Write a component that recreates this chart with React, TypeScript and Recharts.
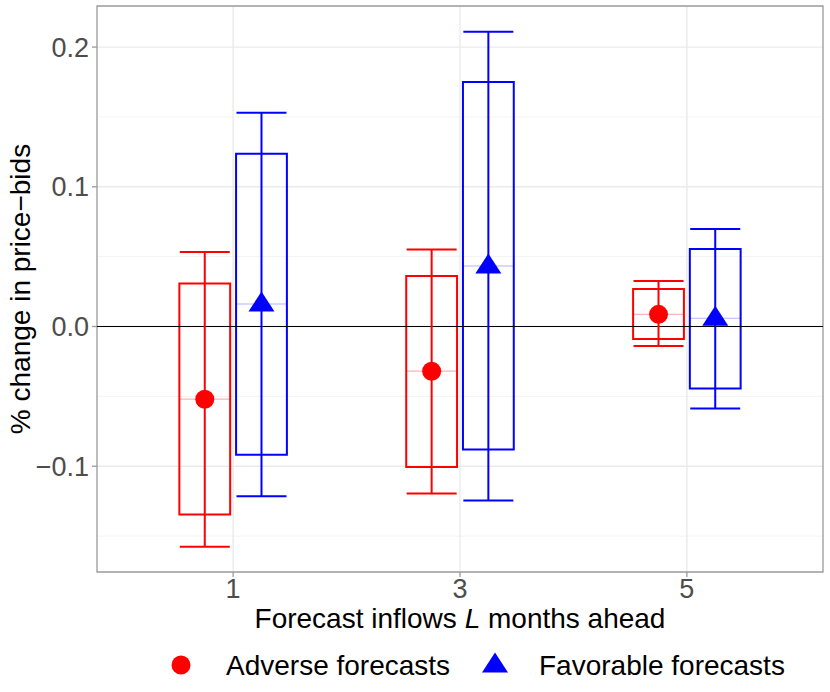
import React from 'react';
import {
  ComposedChart,
  XAxis,
  YAxis,
  CartesianGrid,
  Scatter,
  ErrorBar,
  ReferenceLine,
  ReferenceArea,
  Label,
} from 'recharts';

// forecast horizons (months ahead)
const lags = ['1', '3', '5'];

// adverse forecasts
const adverseEstimate = [-0.052, -0.032, 0.0087];
const adverseBoxLow = [-0.1346, -0.1006, -0.009];
const adverseBoxHigh = [0.0308, 0.0362, 0.0268];
const adverseLow = [-0.1577, -0.1195, -0.014];
const adverseHigh = [0.0534, 0.0552, 0.0326];

// favorable forecasts
const favorableEstimate = [0.0161, 0.0433, 0.0059];
const favorableBoxLow = [-0.0918, -0.088, -0.0443];
const favorableBoxHigh = [0.1237, 0.175, 0.0555];
const favorableLow = [-0.1215, -0.1245, -0.0587];
const favorableHigh = [0.153, 0.211, 0.0698];

const majorY = [-0.1, 0, 0.1, 0.2];
const minorY = [-0.15, -0.05, 0.05, 0.15];

const X_DOMAIN: [number, number] = [0.4, 3.6];
const Y_DOMAIN: [number, number] = [-0.1757, 0.2294];
const DODGE = 0.125;
const BOX_HALF = 0.112;

const RED = '#FF0000';
const BLUE = '#0000FF';
const FONT = '"Liberation Sans", Arial, Helvetica, sans-serif';

type Row = {
  lag: string;
  x: number;
  est: number;
  err: [number, number];
  boxLow: number;
  boxHigh: number;
};

const buildRows = (
  est: number[],
  boxLow: number[],
  boxHigh: number[],
  low: number[],
  high: number[],
  shift: number,
): Row[] =>
  lags.map((lag, i) => ({
    lag,
    x: i + 1 + shift,
    est: est[i],
    err: [est[i] - low[i], high[i] - est[i]],
    boxLow: boxLow[i],
    boxHigh: boxHigh[i],
  }));

const adverseRows = buildRows(
  adverseEstimate,
  adverseBoxLow,
  adverseBoxHigh,
  adverseLow,
  adverseHigh,
  -DODGE,
);
const favorableRows = buildRows(
  favorableEstimate,
  favorableBoxLow,
  favorableBoxHigh,
  favorableLow,
  favorableHigh,
  DODGE,
);

const fmtY = (v: number) =>
  v === 0 ? '0.0' : (v < 0 ? '\u2212' : '') + Math.abs(v).toFixed(1);

const XTick = (props: any) => {
  const { x, y, payload } = props;
  return (
    <text
      x={x}
      y={y}
      dy="0.71em"
      textAnchor="middle"
      fontSize={27}
      fontFamily={FONT}
      fill="#4D4D4D">
      {lags[payload.value - 1]}
    </text>
  );
};

const YTick = (props: any) => {
  const { x, y, payload } = props;
  return (
    <text
      x={x}
      y={y}
      dy="0.355em"
      textAnchor="end"
      fontSize={27}
      fontFamily={FONT}
      fill="#4D4D4D">
      {fmtY(payload.value)}
    </text>
  );
};

const XTitle = (props: any) => {
  const vb = props.viewBox;
  return (
    <text
      x={vb.x + vb.width / 2}
      y={vb.y + 56}
      textAnchor="middle"
      fontSize={28}
      fontFamily={FONT}
      fill="#000">
      Forecast inflows <tspan fontStyle="italic">L</tspan> months ahead
    </text>
  );
};

const YTitle = (props: any) => {
  const vb = props.viewBox;
  const cx = 20;
  const cy = vb.y + vb.height / 2;
  return (
    <text
      x={cx}
      y={cy}
      dy="0.355em"
      textAnchor="middle"
      transform={`rotate(-90 ${cx} ${cy})`}
      fontSize={28}
      fontFamily={FONT}
      fill="#000">
      % change in price{'\u2212'}bids
    </text>
  );
};

const Dot = (props: any) => (
  <circle cx={props.cx} cy={props.cy} r={9.5} fill={RED} />
);

const Tri = (props: any) => {
  const { cx, cy } = props;
  return (
    <path
      d={`M${cx},${cy - 12.5} L${cx + 13},${cy + 7.5} L${cx - 13},${cy + 7.5} Z`}
      fill={BLUE}
    />
  );
};

const Boxes = (rows: Row[], color: string, id: string) =>
  rows.map((r) => (
    <ReferenceArea
      key={`${id}-box-${r.lag}`}
      x1={r.x - BOX_HALF}
      x2={r.x + BOX_HALF}
      y1={r.boxLow}
      y2={r.boxHigh}
      fill="none"
      fillOpacity={0}
      stroke={color}
      strokeWidth={2}
      ifOverflow="visible"
    />
  ));

const Medians = (rows: Row[], color: string, id: string) =>
  rows.map((r) => (
    <ReferenceLine
      key={`${id}-mid-${r.lag}`}
      segment={[
        { x: r.x - BOX_HALF, y: r.est },
        { x: r.x + BOX_HALF, y: r.est },
      ]}
      stroke={color}
      strokeOpacity={0.3}
      strokeWidth={1.2}
      ifOverflow="visible"
    />
  ));

const ChartLegend = () => (
  <svg
    width={830}
    height={50}
    style={{ position: 'absolute', left: 0, top: 640 }}>
    <circle cx={181} cy={25} r={9.5} fill={RED} />
    <text x={226} y={35} fontSize={28} fontFamily={FONT} fill="#000">
      Adverse forecasts
    </text>
    <path d="M495,12.5 L508,32.5 L482,32.5 Z" fill={BLUE} />
    <text x={539} y={35} fontSize={28} fontFamily={FONT} fill="#000">
      Favorable forecasts
    </text>
  </svg>
);

const App: React.FC = () => {
  return (
    <div
      style={{
        position: 'absolute',
        left: 0,
        top: 0,
        width: 830,
        height: 692,
        background: '#fff',
      }}>
      <ComposedChart
        width={830}
        height={692}
        margin={{ top: 6, right: 7, left: 0, bottom: 0 }}>
        <CartesianGrid
          horizontalValues={minorY}
          vertical={false}
          stroke="#F3F3F3"
          strokeWidth={1}
        />
        <CartesianGrid
          horizontalValues={majorY}
          verticalValues={[1, 2, 3]}
          stroke="#EBEBEB"
          strokeWidth={1.4}
        />
        <XAxis
          type="number"
          dataKey="x"
          domain={X_DOMAIN}
          ticks={[1, 2, 3]}
          allowDataOverflow
          axisLine={false}
          tickLine={{ stroke: '#9A9A9A', strokeWidth: 1.3 }}
          tickSize={5}
          tickMargin={2}
          height={120}
          tick={<XTick />}>
          <Label content={<XTitle />} />
        </XAxis>
        <YAxis
          type="number"
          dataKey="est"
          domain={Y_DOMAIN}
          ticks={majorY}
          allowDataOverflow
          axisLine={false}
          tickLine={{ stroke: '#9A9A9A', strokeWidth: 1.3 }}
          tickSize={5}
          tickMargin={3}
          width={97}
          tick={<YTick />}>
          <Label content={<YTitle />} />
        </YAxis>
        <ReferenceLine y={0} stroke="#000" strokeWidth={1.2} />
        {Boxes(adverseRows, RED, 'adv')}
        {Boxes(favorableRows, BLUE, 'fav')}
        {Medians(adverseRows, RED, 'adv')}
        {Medians(favorableRows, BLUE, 'fav')}
        <Scatter
          name="Adverse forecasts"
          data={adverseRows}
          fill={RED}
          shape={Dot}
          isAnimationActive={false}>
          <ErrorBar
            dataKey="err"
            direction="y"
            width={25}
            stroke={RED}
            strokeWidth={2}
            isAnimationActive={false}
          />
        </Scatter>
        <Scatter
          name="Favorable forecasts"
          data={favorableRows}
          fill={BLUE}
          shape={Tri}
          isAnimationActive={false}>
          <ErrorBar
            dataKey="err"
            direction="y"
            width={25}
            stroke={BLUE}
            strokeWidth={2}
            isAnimationActive={false}
          />
        </Scatter>
        <ReferenceArea
          x1={X_DOMAIN[0]}
          x2={X_DOMAIN[1]}
          y1={Y_DOMAIN[0]}
          y2={Y_DOMAIN[1]}
          fill="none"
          fillOpacity={0}
          stroke="#9A9A9A"
          strokeWidth={1.3}
          ifOverflow="visible"
        />
      </ComposedChart>
      <ChartLegend />
    </div>
  );
};

export default App;
